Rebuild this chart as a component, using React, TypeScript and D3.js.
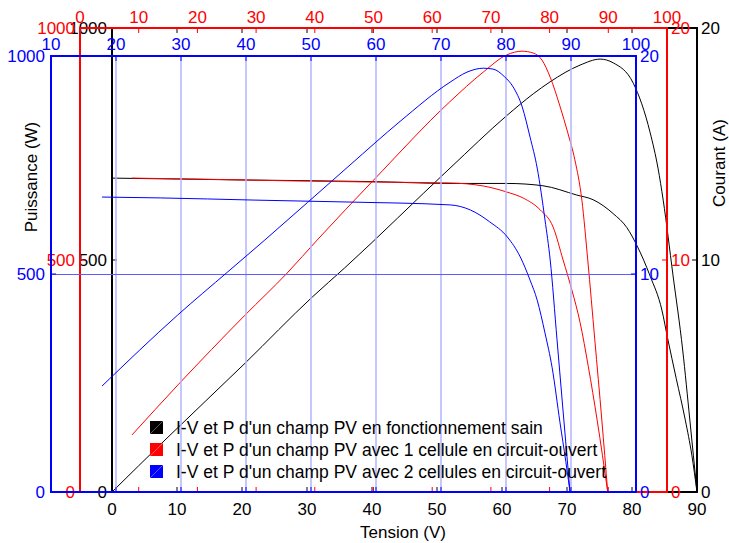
import React from 'react';
import * as d3 from 'd3';

// ---- Data (each series in its own axes' units) ----
// Healthy array (black axes: V 0..90)
const blackPowerV = [0, 8.15, 20.5, 30.8, 35.8, 52, 60.8, 64.8, 67.4, 72, 75.1, 77.1, 80.2, 82.8, 84, 84.8, 86.3, 87.8, 88.9, 90];
const blackPowerW = [0, 112, 278, 420, 483, 698, 812, 858, 884, 920, 933, 925, 881, 774, 698, 629, 468, 306, 155, 0];
const blackCurrentV = [0, 20, 40, 52, 60.8, 66.3, 71.5, 74, 77.1, 79.2, 80.8, 82.8, 84.6, 85.5, 86.8, 88.2, 89.2, 90];
const blackCurrentA = [13.53, 13.45, 13.38, 13.3, 13.3, 13.2, 12.8, 12.6, 12.0, 11.4, 10.6, 9.3, 7.84, 6.6, 4.9, 3.1, 1.6, 0];

// One open-circuited cell (red axes: V 0..100)
const redPowerV = [8.86, 16.7, 28.1, 35.3, 40.4, 50, 63.0, 68.7, 72.7, 75.3, 77.2, 78.7, 80.1, 81.8, 83.1, 84.3, 85.5, 86.5, 87.7, 88.9, 89.9];
const redPowerW = [123, 231, 381, 472, 543, 672, 841, 905, 942, 950, 946, 931, 894, 830, 774, 716, 629, 500, 328, 155, 0];
const redCurrentV = [8.86, 19.6, 36.1, 50, 63.0, 68.7, 72.7, 75.5, 78.4, 80.6, 82.3, 83.8, 85.2, 86.6, 88.1, 89.9];
const redCurrentA = [13.53, 13.49, 13.41, 13.36, 13.32, 13.19, 12.93, 12.67, 12.16, 11.42, 10.0, 8.7, 7.3, 5.4, 3.1, 0];

// Two open-circuited cells (blue axes: V 10..100)
const bluePowerV = [17.85, 29.5, 37.2, 42.9, 56, 63.7, 71.4, 74, 76.5, 78, 79.8, 81.1, 82.5, 83.7, 84.8, 86, 86.8, 87.85, 88.9, 89.85];
const bluePowerW = [243, 406, 505, 578, 750, 850, 940, 963, 972, 970, 952, 929, 883, 814, 743, 624, 532, 349, 165, 0];
const blueCurrentV = [17.85, 26.8, 41.4, 56, 71.4, 74.5, 77.5, 80.2, 82.2, 83.7, 84.8, 86, 87.1, 88.3, 89.2, 89.85];
const blueCurrentA = [13.53, 13.49, 13.39, 13.3, 13.17, 12.94, 12.39, 11.7, 10.78, 9.72, 8.8, 7.29, 5.7, 3.2, 1.4, 0];

// Ticks
const blackXTicks = [0, 10, 20, 30, 40, 50, 60, 70, 80, 90];
const redXTicks = [0, 10, 20, 30, 40, 50, 60, 70, 80, 90, 100];
const blueXTicks = [10, 20, 30, 40, 50, 60, 70, 80, 90, 100];
const blueGridTicks = [20, 30, 40, 50, 60, 70, 80, 90];
const powerTicks = [0, 500, 1000];
const currentTicks = [0, 10, 20];

const legendColors = ['#000000', '#ff0000', '#0000ff'];
const legendLabels = [
  "I-V et P d'un champ PV en fonctionnement sain",
  "I-V et P d'un champ PV avec 1 cellule en circuit-ouvert",
  "I-V et P d'un champ PV avec 2 cellules en circuit-ouvert",
];

const FONT = 'Liberation Sans, Arial, Helvetica, sans-serif';
const FS = 17;

type FrameProps = {
  color: string;
  x: d3.ScaleLinear<number, number>;
  yP: d3.ScaleLinear<number, number>;
  yI: d3.ScaleLinear<number, number>;
  xTicks: number[];
  topLabelY?: number;
  bottomLabelY?: number;
  leftLabelX: number;
  rightLabelX: number;
  children?: React.ReactNode;
};

function Frame({ color, x, yP, yI, xTicks, topLabelY, bottomLabelY, leftLabelX, rightLabelX, children }: FrameProps) {
  const [x0, x1] = x.range();
  const [y1, y0] = yP.range();
  const t = 5;
  return (
    <g>
      {children}
      {xTicks.map((v) => (
        <g key={'xt' + v}>
          <line x1={x(v)} x2={x(v)} y1={y0} y2={y0 + t} stroke={color} strokeWidth={1} />
          <line x1={x(v)} x2={x(v)} y1={y1} y2={y1 - t} stroke={color} strokeWidth={1} />
          {topLabelY !== undefined && (
            <text x={x(v)} y={topLabelY} textAnchor="middle" fill={color} fontSize={FS} fontFamily={FONT}>{v}</text>
          )}
          {bottomLabelY !== undefined && (
            <text x={x(v)} y={bottomLabelY} textAnchor="middle" fill={color} fontSize={FS} fontFamily={FONT}>{v}</text>
          )}
        </g>
      ))}
      {powerTicks.map((v) => (
        <g key={'yp' + v}>
          <line x1={x0} x2={x0 + t} y1={yP(v)} y2={yP(v)} stroke={color} strokeWidth={1} />
          <text x={leftLabelX} y={yP(v)} dy="0.35em" textAnchor="end" fill={color} fontSize={FS} fontFamily={FONT}>{v}</text>
        </g>
      ))}
      {currentTicks.map((v) => (
        <g key={'yi' + v}>
          <line x1={x1} x2={x1 - t} y1={yI(v)} y2={yI(v)} stroke={color} strokeWidth={1} />
          <text x={rightLabelX} y={yI(v)} dy="0.35em" textAnchor="start" fill={color} fontSize={FS} fontFamily={FONT}>{v}</text>
        </g>
      ))}
      <rect x={x0} y={y0} width={x1 - x0} height={y1 - y0} fill="none" stroke={color} strokeWidth={2} />
    </g>
  );
}

function curve(xs: number[], ys: number[], x: d3.ScaleLinear<number, number>, y: d3.ScaleLinear<number, number>) {
  const pts = xs.map((v, i) => [v, ys[i]] as [number, number]);
  return d3.line<[number, number]>().x((d) => x(d[0])).y((d) => y(d[1])).curve(d3.curveMonotoneX)(pts) || '';
}

export default function App() {
  // black axes
  const xB = d3.scaleLinear().domain([0, 90]).range([112, 697]);
  const yBP = d3.scaleLinear().domain([0, 1000]).range([492, 28]);
  const yBI = d3.scaleLinear().domain([0, 20]).range([492, 28]);
  // red axes
  const xR = d3.scaleLinear().domain([0, 100]).range([80, 667]);
  const yRP = d3.scaleLinear().domain([0, 1000]).range([492, 28]);
  const yRI = d3.scaleLinear().domain([0, 20]).range([492, 28]);
  // blue axes
  const xL = d3.scaleLinear().domain([10, 100]).range([51, 636]);
  const yLP = d3.scaleLinear().domain([0, 1000]).range([492, 56]);
  const yLI = d3.scaleLinear().domain([0, 20]).range([492, 56]);

  return (
    <svg width={729} height={543} style={{ position: 'absolute', left: 0, top: 0, background: '#fff' }}>
      <rect width={729} height={543} fill="#fff" />
      {/* black axes */}
      <Frame color="#000" x={xB} yP={yBP} yI={yBI} xTicks={blackXTicks} bottomLabelY={515} leftLabelX={107} rightLabelX={701}>
        <path d={curve(blackPowerV, blackPowerW, xB, yBP)} fill="none" stroke="#000" strokeWidth={1} />
        <path d={curve(blackCurrentV, blackCurrentA, xB, yBI)} fill="none" stroke="#000" strokeWidth={1} />
      </Frame>
      {/* red axes */}
      <Frame color="#ff0000" x={xR} yP={yRP} yI={yRI} xTicks={redXTicks} topLabelY={23} leftLabelX={75} rightLabelX={671}>
        <path d={curve(redPowerV, redPowerW, xR, yRP)} fill="none" stroke="#ff0000" strokeWidth={1} />
        <path d={curve(redCurrentV, redCurrentA, xR, yRI)} fill="none" stroke="#ff0000" strokeWidth={1} />
      </Frame>
      {/* blue axes */}
      <Frame color="#0000ff" x={xL} yP={yLP} yI={yLI} xTicks={blueXTicks} topLabelY={50} leftLabelX={45} rightLabelX={640}>
        {blueGridTicks.map((v) => (
          <line key={'g' + v} x1={xL(v)} x2={xL(v)} y1={56} y2={492} stroke="#b4b4ff" strokeWidth={1.5} />
        ))}
        <line x1={51} x2={636} y1={yLP(500) + 0.5} y2={yLP(500) + 0.5} stroke="#5c5cff" strokeWidth={1} />
        <path d={curve(bluePowerV, bluePowerW, xL, yLP)} fill="none" stroke="#0000ff" strokeWidth={1} />
        <path d={curve(blueCurrentV, blueCurrentA, xL, yLI)} fill="none" stroke="#0000ff" strokeWidth={1} />
      </Frame>
      {/* legend */}
      {legendLabels.map((lab, i) => (
        <g key={lab}>
          <rect x={150} y={421 + i * 22} width={13} height={13} fill={legendColors[i]} />
          <line x1={150} y1={434 + i * 22} x2={163} y2={421 + i * 22} stroke="#fff" strokeOpacity={0.35} strokeWidth={1} />
          <text x={176} y={434 + i * 22} fontSize={17.5} fontFamily={FONT} fill="#000">{lab}</text>
        </g>
      ))}
      {/* axis titles */}
      <text transform="translate(37,177) rotate(-90)" textAnchor="middle" fontSize={FS} fontFamily={FONT}>Puissance (W)</text>
      <text transform="translate(725,163) rotate(-90)" textAnchor="middle" fontSize={FS} fontFamily={FONT}>Courant (A)</text>
      <text x={403} y={538} textAnchor="middle" fontSize={FS} fontFamily={FONT}>Tension (V)</text>
    </svg>
  );
}
